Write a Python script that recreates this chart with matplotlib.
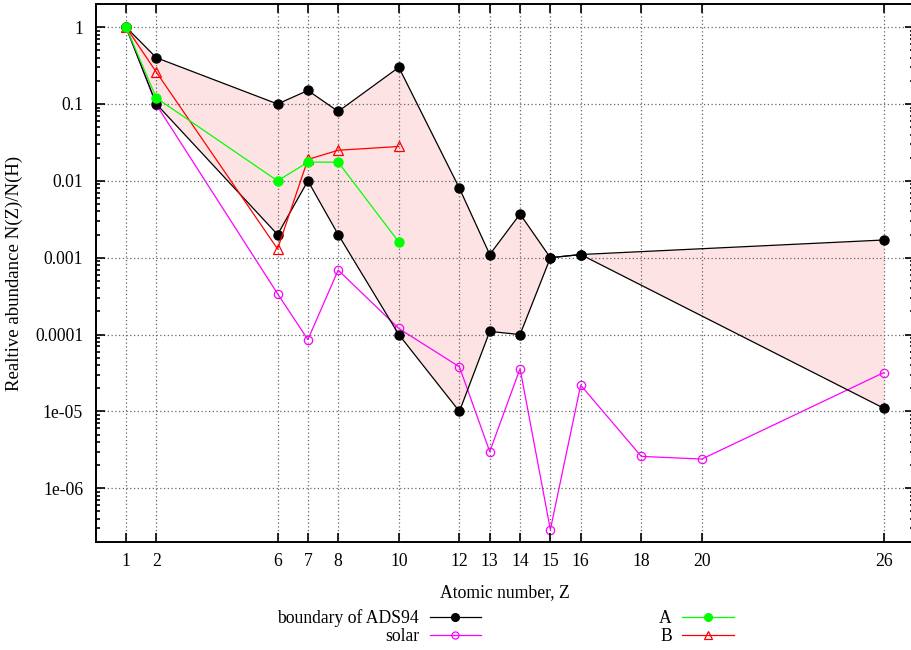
import matplotlib
matplotlib.use('Agg')
import matplotlib.pyplot as plt
from matplotlib.ticker import FixedLocator, FixedFormatter, LogLocator, NullFormatter

plt.rcParams['font.family'] = ['Liberation Serif', 'DejaVu Serif']
plt.rcParams['font.size'] = 12.7

# ADS94 boundary, upper and lower edge of the allowed region
Z_bound = [1, 2, 6, 7, 8, 10, 12, 13, 14, 15, 16, 26]
bound_upper = [1, 0.4, 0.1, 0.15, 0.08, 0.3, 0.008, 0.0011, 0.0037, 0.001, 0.0011, 0.0017]
bound_lower = [1, 0.1, 0.002, 0.01, 0.002, 1e-4, 1e-5, 1.1e-4, 1e-4, 0.001, 0.0011, 1.1e-5]

# solar abundances
Z_solar = [1, 2, 6, 7, 8, 10, 12, 13, 14, 15, 16, 18, 20, 26]
solar = [1, 0.098, 3.4e-4, 8.6e-5, 6.9e-4, 1.2e-4, 3.8e-5, 3.0e-6, 3.6e-5, 2.9e-7, 2.2e-5, 2.6e-6, 2.4e-6, 3.2e-5]

# models A and B
Z_AB = [1, 2, 6, 7, 8, 10]
abund_A = [1, 0.12, 0.01, 0.0175, 0.0175, 0.0016]
abund_B = [1, 0.26, 0.0013, 0.019, 0.025, 0.028]

xticks = [1, 2, 6, 7, 8, 10, 12, 13, 14, 15, 16, 18, 20, 26]
yticks = [1, 0.1, 0.01, 0.001, 0.0001, 1e-5, 1e-6]
ytick_labels = ['1', '0.1', '0.01', '0.001', '0.0001', '1e-05', '1e-06']

fig = plt.figure(figsize=(9.11, 6.5), dpi=100)
ax = fig.add_axes([95.7 / 911, 108 / 650, 818.4 / 911, 538 / 650])

ax.fill_between(Z_bound, bound_lower, bound_upper, color='#fde3e3', lw=0, zorder=1)

ax.plot(Z_solar, solar, color='#ff00ff', lw=0.9, marker='o', ms=6, mfc='none', mec='#ff00ff',
        mew=0.9, label='solar', zorder=2)
ax.plot(Z_bound, bound_upper, color='black', lw=0.9, marker='o', ms=6.5, zorder=3,
        label='boundary of ADS94')
ax.plot(Z_bound, bound_lower, color='black', lw=0.9, marker='o', ms=6.5, zorder=3)
ax.plot(Z_AB, abund_B, color='#ff0000', lw=0.9, marker='^', ms=6.5, mfc='none', mec='#ff0000',
        mew=0.9, label='B', zorder=4)
ax.plot(Z_AB, abund_A, color='#00ff00', lw=0.9, marker='o', ms=6.5, label='A', zorder=5)

ax.set_yscale('log')
ax.set_xlim(0, 27)
ax.set_ylim(2e-7, 2)

ax.xaxis.set_major_locator(FixedLocator(xticks))
ax.set_xticklabels([str(z) for z in xticks])
ax.yaxis.set_major_locator(FixedLocator(yticks))
ax.yaxis.set_major_formatter(FixedFormatter(ytick_labels))
ax.yaxis.set_minor_locator(LogLocator(base=10, subs=range(2, 10), numticks=20))
ax.yaxis.set_minor_formatter(NullFormatter())

ax.tick_params(axis='both', which='both', direction='in', top=True, right=True, width=1.2)
ax.tick_params(axis='both', which='major', length=6.5)
ax.tick_params(axis='y', which='minor', length=3)
ax.tick_params(axis='y', which='major', pad=9)
ax.tick_params(axis='x', which='major', pad=8)
for s in ax.spines.values():
    s.set_linewidth(1.4)

ax.grid(True, which='major', color='0.4', lw=0.9, ls=(0, (1, 2)))
ax.set_axisbelow(False)

ax.set_xlabel('Atomic number, Z', labelpad=10)
ax.set_ylabel('Realtive abundance N(Z)/N(H)', fontsize=13.5)
ax.yaxis.set_label_coords(-0.089, 0.5)

handles, labels = ax.get_legend_handles_labels()
order = [labels.index(n) for n in ['boundary of ADS94', 'solar', 'A', 'B']]
fig.legend([handles[i] for i in order], [labels[i] for i in order], ncol=2,
           loc='center', bbox_to_anchor=(505.5 / 911, 1 - 627 / 650), frameon=False,
           markerfirst=False, handlelength=2.9, handletextpad=0.6, columnspacing=10.1,
           labelspacing=0.05, borderpad=0, markerscale=0.85)

fig.savefig('out.png', dpi=100)
